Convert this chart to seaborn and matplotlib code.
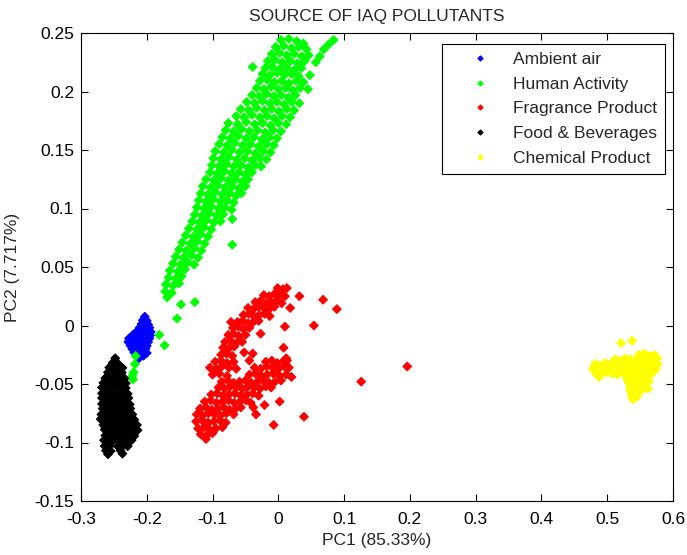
import numpy as np
import pandas as pd
import matplotlib
matplotlib.use("Agg")
import matplotlib.pyplot as plt
import seaborn as sns

sns.set_style("ticks")
plt.rcParams["font.family"] = ["Liberation Sans", "DejaVu Sans"]

# ------------------------------------------------------------
#  data (PC1, PC2)
# ------------------------------------------------------------
SOURCES = ["Ambient air", "Human Activity", "Fragrance Product",
           "Food & Beverages", "Chemical Product"]
COLORS = {"Ambient air": "#0000ff", "Human Activity": "#00ff00",
          "Fragrance Product": "#ff0000", "Food & Beverages": "#000000",
          "Chemical Product": "#ffff00"}

ambient_pts = [
    (-0.203, 0.0075),
    (-0.206, 0.0045), (-0.200, 0.0040),
    (-0.208, 0.0012), (-0.203, 0.0015), (-0.198, 0.0008),
    (-0.211, -0.0020), (-0.206, -0.0017), (-0.201, -0.0022), (-0.196, -0.0018),
    (-0.215, -0.0050), (-0.210, -0.0047), (-0.205, -0.0053), (-0.199, -0.0048), (-0.194, -0.0055),
    (-0.221, -0.0080), (-0.216, -0.0083), (-0.211, -0.0078), (-0.205, -0.0082), (-0.200, -0.0079), (-0.195, -0.0085),
    (-0.227, -0.0110), (-0.222, -0.0113), (-0.216, -0.0108), (-0.211, -0.0112), (-0.206, -0.0109), (-0.201, -0.0114), (-0.196, -0.0110),
    (-0.228, -0.0140), (-0.223, -0.0143), (-0.218, -0.0138), (-0.213, -0.0142), (-0.208, -0.0139), (-0.203, -0.0144), (-0.198, -0.0141),
    (-0.225, -0.0170), (-0.220, -0.0173), (-0.215, -0.0168), (-0.210, -0.0172), (-0.205, -0.0169), (-0.200, -0.0174),
    (-0.222, -0.0200), (-0.217, -0.0203), (-0.212, -0.0198), (-0.207, -0.0202), (-0.202, -0.0199),
    (-0.219, -0.0230), (-0.214, -0.0233), (-0.209, -0.0228), (-0.204, -0.0232), (-0.200, -0.0235),
    (-0.215, -0.0260), (-0.210, -0.0262), (-0.205, -0.0258),
    (-0.212, -0.0280),
]

human_pts = [
    (0.004, 0.244), (0.016, 0.245), (0.028, 0.243), (0.038, 0.241), (0.084, 0.244), (0.076, 0.240),
    (-0.004, 0.238), (0.008, 0.239), (0.020, 0.237), (0.031, 0.238), (0.043, 0.236), (0.069, 0.236),
    (-0.010, 0.232), (0.002, 0.233), (0.013, 0.231), (0.024, 0.232), (0.036, 0.230), (0.046, 0.231), (0.063, 0.230),
    (-0.016, 0.226), (-0.005, 0.227), (0.006, 0.225), (0.018, 0.226), (0.029, 0.224), (0.040, 0.226), (0.057, 0.225),
    (-0.039, 0.221), (-0.020, 0.220), (-0.009, 0.221), (0.002, 0.219), (0.013, 0.220), (0.024, 0.218), (0.035, 0.220),
    (-0.024, 0.215), (-0.013, 0.214), (-0.002, 0.216), (0.009, 0.214), (0.020, 0.215), (0.031, 0.213), (0.048, 0.214),
    (-0.028, 0.209), (-0.017, 0.210), (-0.006, 0.208), (0.005, 0.209), (0.016, 0.207), (0.027, 0.209), (0.038, 0.208),
    (-0.033, 0.203), (-0.022, 0.202), (-0.011, 0.204), (0.000, 0.202), (0.011, 0.203), (0.022, 0.201), (0.033, 0.203), (0.045, 0.202),
    (-0.040, 0.197), (-0.029, 0.196), (-0.018, 0.198), (-0.007, 0.196), (0.004, 0.197), (0.015, 0.195), (0.026, 0.197),
    (-0.048, 0.191), (-0.036, 0.190), (-0.024, 0.192), (-0.013, 0.190), (-0.002, 0.191), (0.009, 0.189), (0.021, 0.191), (0.032, 0.190),
    (-0.057, 0.185), (-0.045, 0.184), (-0.033, 0.186), (-0.021, 0.184), (-0.010, 0.185), (0.001, 0.183), (0.013, 0.185), (0.024, 0.184),
    (-0.064, 0.179), (-0.052, 0.178), (-0.040, 0.180), (-0.028, 0.178), (-0.017, 0.179), (-0.006, 0.177), (0.006, 0.179), (0.018, 0.178),
    (-0.076, 0.173), (-0.062, 0.172), (-0.049, 0.174), (-0.036, 0.172), (-0.024, 0.173), (-0.012, 0.171), (0.000, 0.173), (0.012, 0.172),
    (-0.080, 0.167), (-0.068, 0.166), (-0.056, 0.168), (-0.044, 0.166), (-0.032, 0.167), (-0.020, 0.165), (-0.008, 0.167), (0.004, 0.166),
    (-0.085, 0.161), (-0.073, 0.160), (-0.061, 0.162), (-0.049, 0.160), (-0.037, 0.161), (-0.025, 0.159), (-0.013, 0.161), (-0.002, 0.160),
    (-0.090, 0.155), (-0.078, 0.154), (-0.066, 0.156), (-0.054, 0.154), (-0.042, 0.155), (-0.030, 0.153), (-0.018, 0.155), (-0.007, 0.154),
    (-0.096, 0.149), (-0.083, 0.148), (-0.071, 0.150), (-0.059, 0.148), (-0.047, 0.149), (-0.035, 0.147), (-0.023, 0.149), (-0.012, 0.148),
    (-0.099, 0.143), (-0.087, 0.142), (-0.075, 0.144), (-0.063, 0.142), (-0.051, 0.143), (-0.040, 0.141), (-0.028, 0.143), (-0.018, 0.142),
    (-0.101, 0.137), (-0.090, 0.136), (-0.079, 0.138), (-0.068, 0.136), (-0.057, 0.137), (-0.046, 0.135), (-0.035, 0.137), (-0.026, 0.136),
    (-0.104, 0.131), (-0.093, 0.130), (-0.082, 0.132), (-0.071, 0.130), (-0.060, 0.131), (-0.050, 0.129), (-0.040, 0.131),
    (-0.110, 0.125), (-0.098, 0.124), (-0.087, 0.126), (-0.076, 0.124), (-0.065, 0.125), (-0.055, 0.123), (-0.046, 0.125),
    (-0.115, 0.119), (-0.103, 0.118), (-0.092, 0.120), (-0.081, 0.118), (-0.070, 0.119), (-0.060, 0.117), (-0.050, 0.119),
    (-0.118, 0.113), (-0.107, 0.112), (-0.096, 0.114), (-0.085, 0.112), (-0.074, 0.113), (-0.064, 0.111), (-0.056, 0.113),
    (-0.121, 0.107), (-0.110, 0.106), (-0.099, 0.108), (-0.088, 0.106), (-0.078, 0.107), (-0.068, 0.105),
    (-0.124, 0.101), (-0.113, 0.100), (-0.102, 0.102), (-0.091, 0.100), (-0.081, 0.101), (-0.071, 0.099),
    (-0.127, 0.095), (-0.116, 0.094), (-0.105, 0.096), (-0.094, 0.094), (-0.084, 0.095),
    (-0.131, 0.089), (-0.120, 0.088), (-0.109, 0.090), (-0.098, 0.088), (-0.088, 0.089), (-0.070, 0.091),
    (-0.136, 0.083), (-0.124, 0.082), (-0.113, 0.084), (-0.102, 0.082),
    (-0.141, 0.077), (-0.129, 0.076), (-0.118, 0.078), (-0.107, 0.076),
    (-0.146, 0.071), (-0.134, 0.070), (-0.123, 0.072), (-0.112, 0.070), (-0.070, 0.069),
    (-0.151, 0.065), (-0.140, 0.064), (-0.128, 0.066), (-0.117, 0.064),
    (-0.156, 0.059), (-0.144, 0.058), (-0.132, 0.060), (-0.122, 0.058),
    (-0.160, 0.053), (-0.149, 0.052), (-0.138, 0.054), (-0.128, 0.052),
    (-0.165, 0.047), (-0.153, 0.046), (-0.142, 0.048),
    (-0.167, 0.041), (-0.156, 0.040), (-0.147, 0.042),
    (-0.171, 0.035), (-0.160, 0.034), (-0.151, 0.036),
    (-0.172, 0.029), (-0.162, 0.028),
    (-0.169, 0.024),
    (-0.148, 0.018), (-0.127, 0.020), (-0.154, 0.006), (-0.181, -0.008), (-0.173, -0.017),
    (-0.217, -0.026), (-0.218, -0.033), (-0.220, -0.040), (-0.222, -0.043), (-0.221, -0.046),
]

fragrance_pts = [
    (-0.001, 0.032), (0.007, 0.031), (0.013, 0.032),
    (-0.022, 0.026), (-0.014, 0.025), (-0.006, 0.027), (0.002, 0.026), (0.010, 0.025),
    (-0.035, 0.020), (-0.027, 0.021), (-0.019, 0.019), (-0.011, 0.020), (-0.003, 0.021), (0.005, 0.019),
    (-0.046, 0.015), (-0.038, 0.014), (-0.030, 0.016), (-0.022, 0.015), (-0.014, 0.014), (-0.006, 0.016),
    (-0.053, 0.009), (-0.045, 0.010), (-0.037, 0.008), (-0.029, 0.009), (-0.021, 0.010), (-0.013, 0.008),
    (-0.062, 0.003), (-0.054, 0.004), (-0.046, 0.002), (-0.038, 0.003), (-0.030, 0.004),
    (-0.069, -0.002), (-0.061, -0.001), (-0.053, -0.003), (-0.044, -0.002),
    (-0.076, -0.008), (-0.068, -0.007), (-0.060, -0.009), (-0.050, -0.008),
    (-0.081, -0.014), (-0.073, -0.013), (-0.064, -0.015), (-0.055, -0.014),
    (-0.084, -0.019), (-0.076, -0.020), (-0.067, -0.018),
    (-0.087, -0.025), (-0.079, -0.024), (-0.070, -0.026),
    (-0.096, -0.031), (-0.087, -0.030), (-0.078, -0.032), (-0.068, -0.031),
    (-0.019, -0.031), (-0.010, -0.030), (-0.002, -0.032), (0.007, -0.031), (0.013, -0.030),
    (-0.104, -0.036), (-0.095, -0.037), (-0.086, -0.035), (-0.075, -0.036), (-0.064, -0.037),
    (-0.036, -0.036), (-0.027, -0.037), (-0.018, -0.035), (-0.009, -0.036), (0.000, -0.037), (0.009, -0.035), (0.016, -0.036),
    (-0.100, -0.042), (-0.090, -0.041), (-0.078, -0.043),
    (-0.044, -0.042), (-0.035, -0.041), (-0.026, -0.043), (-0.017, -0.042), (-0.008, -0.041), (0.002, -0.043), (0.012, -0.042),
    (-0.086, -0.048), (-0.077, -0.047), (-0.068, -0.049), (-0.059, -0.048), (-0.050, -0.047), (-0.041, -0.049),
    (-0.032, -0.048), (-0.023, -0.047), (-0.014, -0.049), (-0.005, -0.048), (0.004, -0.047),
    (-0.091, -0.053), (-0.082, -0.054), (-0.073, -0.052), (-0.064, -0.053), (-0.055, -0.054), (-0.046, -0.052),
    (-0.037, -0.053), (-0.028, -0.054), (-0.019, -0.052), (-0.011, -0.053),
    (-0.102, -0.059), (-0.093, -0.058), (-0.084, -0.060), (-0.075, -0.059), (-0.066, -0.058), (-0.057, -0.060),
    (-0.048, -0.059), (-0.039, -0.058), (-0.030, -0.060),
    (-0.112, -0.065), (-0.103, -0.064), (-0.094, -0.066), (-0.085, -0.065), (-0.076, -0.064), (-0.067, -0.066),
    (-0.058, -0.065), (-0.049, -0.064), (-0.042, -0.066),
    (-0.119, -0.071), (-0.110, -0.070), (-0.101, -0.072), (-0.092, -0.071), (-0.083, -0.070), (-0.074, -0.072),
    (-0.065, -0.071), (-0.057, -0.070),
    (-0.124, -0.076), (-0.115, -0.077), (-0.106, -0.075), (-0.097, -0.076), (-0.088, -0.077), (-0.079, -0.075), (-0.068, -0.076),
    (-0.125, -0.082), (-0.116, -0.081), (-0.107, -0.083), (-0.098, -0.082), (-0.089, -0.081), (-0.080, -0.083),
    (-0.122, -0.088), (-0.113, -0.087), (-0.104, -0.089), (-0.095, -0.088), (-0.085, -0.087),
    (-0.118, -0.093), (-0.109, -0.094), (-0.100, -0.092),
    (-0.110, -0.097),
    (0.032, 0.025), (0.068, 0.022), (0.089, 0.014), (0.018, 0.015), (0.010, -0.001), (0.054, 0.000),
    (-0.027, -0.007), (0.008, -0.019), (-0.039, -0.024), (-0.044, -0.030), (-0.052, -0.023), (0.012, -0.028),
    (0.020, -0.044), (0.002, -0.065), (-0.021, -0.068), (-0.038, -0.070), (-0.034, -0.076), (-0.007, -0.085),
    (0.039, -0.078), (0.126, -0.048), (0.196, -0.035), (-0.072, 0.003),
]

food_pts = [
    (-0.248, -0.028),
    (-0.252, -0.032), (-0.244, -0.0325),
    (-0.257, -0.036), (-0.250, -0.0365), (-0.243, -0.0358), (-0.237, -0.0362),
    (-0.259, -0.040), (-0.252, -0.0405), (-0.245, -0.0398), (-0.238, -0.0403),
    (-0.263, -0.045), (-0.256, -0.0447), (-0.249, -0.0453), (-0.242, -0.0448), (-0.234, -0.0452),
    (-0.266, -0.049), (-0.259, -0.0493), (-0.252, -0.0487), (-0.245, -0.0492), (-0.238, -0.0489), (-0.232, -0.0494),
    (-0.268, -0.053), (-0.261, -0.0533), (-0.254, -0.0528), (-0.247, -0.0532), (-0.240, -0.0529), (-0.232, -0.0534),
    (-0.268, -0.058), (-0.261, -0.0577), (-0.254, -0.0583), (-0.247, -0.0578), (-0.240, -0.0582), (-0.233, -0.0579), (-0.229, -0.0584),
    (-0.268, -0.062), (-0.261, -0.0623), (-0.254, -0.0618), (-0.247, -0.0622), (-0.240, -0.0619), (-0.233, -0.0624), (-0.228, -0.0620),
    (-0.268, -0.067), (-0.261, -0.0667), (-0.254, -0.0673), (-0.247, -0.0668), (-0.240, -0.0672), (-0.233, -0.0669), (-0.226, -0.0674),
    (-0.267, -0.071), (-0.260, -0.0713), (-0.253, -0.0708), (-0.246, -0.0712), (-0.239, -0.0709), (-0.232, -0.0714), (-0.225, -0.0710),
    (-0.269, -0.076), (-0.262, -0.0757), (-0.255, -0.0763), (-0.248, -0.0758), (-0.241, -0.0762), (-0.234, -0.0759), (-0.227, -0.0764), (-0.222, -0.0760),
    (-0.270, -0.080), (-0.263, -0.0803), (-0.256, -0.0798), (-0.249, -0.0802), (-0.242, -0.0799), (-0.235, -0.0804), (-0.228, -0.0800), (-0.219, -0.0805),
    (-0.266, -0.085), (-0.259, -0.0847), (-0.252, -0.0853), (-0.245, -0.0848), (-0.238, -0.0852), (-0.231, -0.0849), (-0.224, -0.0854), (-0.215, -0.0850),
    (-0.264, -0.089), (-0.257, -0.0893), (-0.250, -0.0888), (-0.243, -0.0892), (-0.236, -0.0889), (-0.229, -0.0894), (-0.222, -0.0890), (-0.214, -0.0895),
    (-0.263, -0.094), (-0.256, -0.0937), (-0.249, -0.0943), (-0.242, -0.0938), (-0.235, -0.0942), (-0.228, -0.0939), (-0.219, -0.0944),
    (-0.265, -0.098), (-0.258, -0.0983), (-0.250, -0.0978), (-0.243, -0.0982), (-0.236, -0.0979), (-0.229, -0.0984), (-0.223, -0.0980),
    (-0.264, -0.103), (-0.256, -0.1027), (-0.244, -0.1033), (-0.237, -0.1028), (-0.229, -0.1032),
    (-0.262, -0.107), (-0.255, -0.1073), (-0.240, -0.1068),
    (-0.259, -0.110), (-0.237, -0.1095),
]

chemical_pts = [
    (0.548, -0.025), (0.556, -0.024), (0.564, -0.026), (0.572, -0.025),
    (0.512, -0.029), (0.520, -0.030), (0.528, -0.028), (0.536, -0.029), (0.544, -0.030), (0.552, -0.028),
    (0.560, -0.029), (0.568, -0.030), (0.576, -0.028),
    (0.481, -0.033), (0.489, -0.034), (0.497, -0.032), (0.505, -0.033), (0.513, -0.034), (0.521, -0.032),
    (0.529, -0.033), (0.537, -0.034), (0.545, -0.032), (0.553, -0.033), (0.561, -0.034), (0.569, -0.032), (0.577, -0.033),
    (0.478, -0.037), (0.486, -0.038), (0.494, -0.036), (0.502, -0.037), (0.510, -0.038), (0.518, -0.036),
    (0.526, -0.037), (0.534, -0.038), (0.542, -0.036), (0.550, -0.037), (0.558, -0.038), (0.566, -0.036), (0.574, -0.037),
    (0.483, -0.041), (0.491, -0.042), (0.499, -0.040), (0.507, -0.041), (0.515, -0.042), (0.523, -0.040),
    (0.531, -0.041), (0.539, -0.042), (0.547, -0.040), (0.555, -0.041), (0.563, -0.042), (0.570, -0.040),
    (0.487, -0.044), (0.530, -0.045), (0.538, -0.044), (0.546, -0.045), (0.554, -0.044), (0.562, -0.045),
    (0.532, -0.048), (0.540, -0.049), (0.548, -0.048), (0.556, -0.049), (0.563, -0.048),
    (0.534, -0.052), (0.542, -0.053), (0.550, -0.052), (0.557, -0.053),
    (0.535, -0.056), (0.543, -0.057), (0.551, -0.056),
    (0.537, -0.060), (0.545, -0.061),
    (0.539, -0.063),
    (0.521, -0.015), (0.538, -0.013), (0.562, -0.054),
]

xticks = [-0.3, -0.2, -0.1, 0, 0.1, 0.2, 0.3, 0.4, 0.5, 0.6]
xtick_labels = ["-0.3", "-0.2", "-0.1", "0", "0.1", "0.2", "0.3", "0.4", "0.5", "0.6"]
yticks = [-0.15, -0.1, -0.05, 0, 0.05, 0.1, 0.15, 0.2, 0.25]
ytick_labels = ["-0.15", "-0.1", "-0.05", "0", "0.05", "0.1", "0.15", "0.2", "0.25"]

# ------------------------------------------------------------
#  build one long table
# ------------------------------------------------------------
frames = []
for name, pts in zip(SOURCES, [ambient_pts, human_pts, fragrance_pts, food_pts, chemical_pts]):
    arr = np.array(pts)
    frames.append(pd.DataFrame({"PC1": arr[:, 0], "PC2": arr[:, 1], "source": name}))
df = pd.concat(frames, ignore_index=True)

# ------------------------------------------------------------
#  plot
# ------------------------------------------------------------
FS = 12.5
fig = plt.figure(figsize=(6.87, 5.55), dpi=100)
ax = fig.add_axes([81 / 687, 1 - 501 / 555, (673 - 81) / 687, (501 - 33) / 555])

sns.scatterplot(data=df, x="PC1", y="PC2", hue="source", hue_order=SOURCES,
                palette=COLORS, marker="D", s=20, linewidth=0.7,
                edgecolor="face", ax=ax)

ax.set_xlim(-0.3, 0.6)
ax.set_ylim(-0.15, 0.25)
ax.set_xticks(xticks)
ax.set_xticklabels(xtick_labels)
ax.set_yticks(yticks)
ax.set_yticklabels(ytick_labels)
ax.tick_params(direction="in", length=5, width=0.8, top=True, right=True,
               labelsize=FS, colors="black", pad=5)
ax.tick_params(axis="x", pad=8)
for sp in ax.spines.values():
    sp.set_visible(True)
    sp.set_color("black")
    sp.set_linewidth(0.8)

ax.set_title("SOURCE OF IAQ POLLUTANTS", fontsize=FS, pad=9)
ax.set_xlabel("PC1 (85.33%)", fontsize=FS, labelpad=4)
ax.set_ylabel("PC2 (7.717%)", fontsize=FS, labelpad=10)

leg = ax.legend(loc="upper right", bbox_to_anchor=(665 / 687, 1 - 44 / 555),
                bbox_transform=fig.transFigure, borderaxespad=0,
                frameon=True, fancybox=False,
                edgecolor="black", framealpha=1, fontsize=FS,
                handlelength=3.5, handletextpad=0.15, labelspacing=0.55,
                borderpad=0.45, markerscale=0.6)
leg.get_frame().set_linewidth(0.8)

fig.savefig("out.png", dpi=100)
